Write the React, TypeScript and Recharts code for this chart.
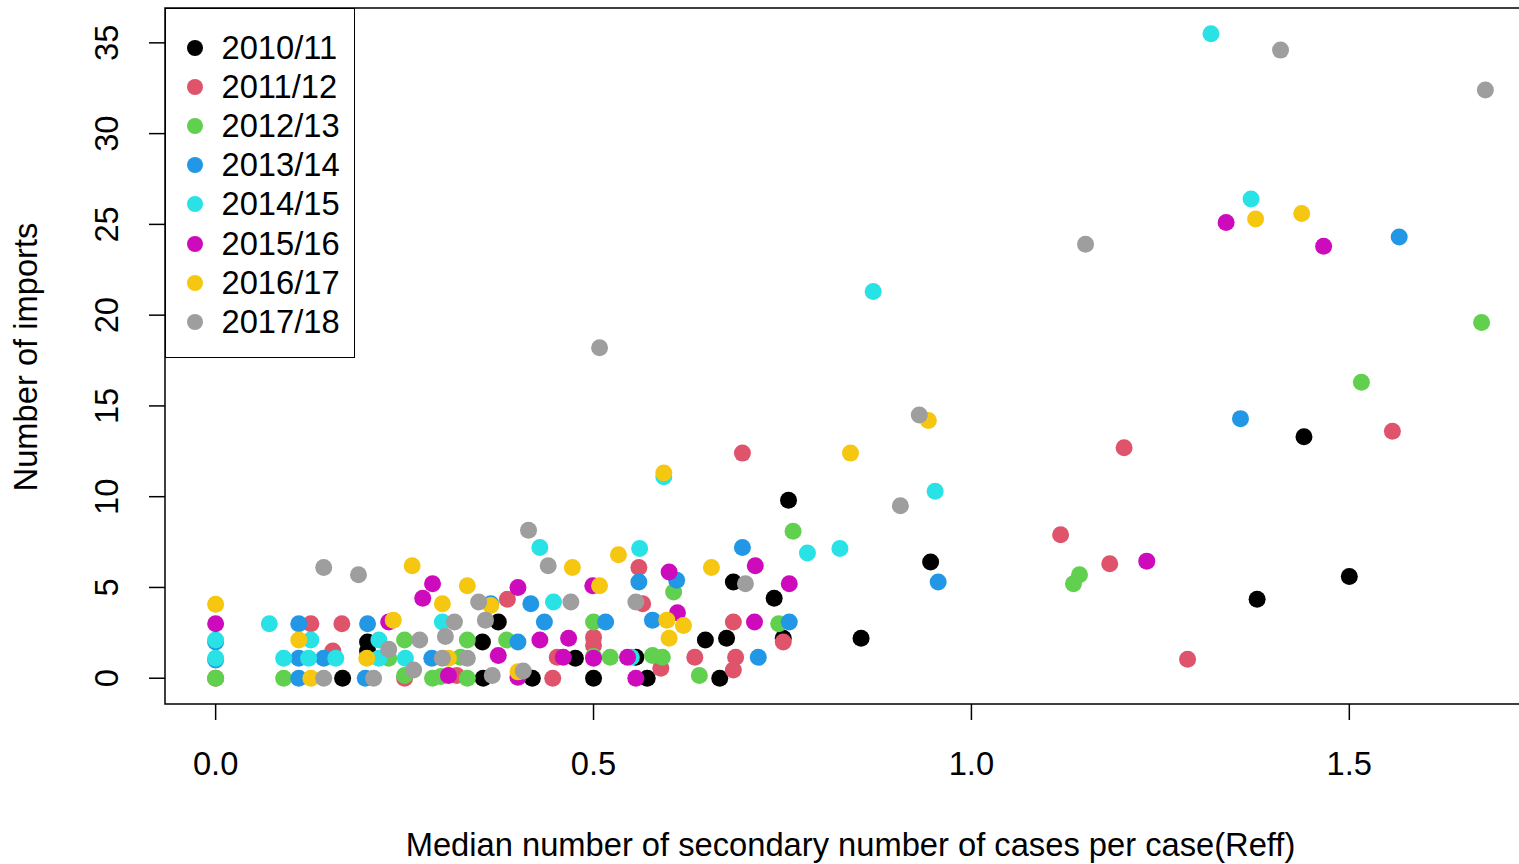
import { ScatterChart, Scatter, XAxis, YAxis, ReferenceArea, Legend, Label } from "recharts";

// season names and colours (R default palette)
const seasons = ["2010/11", "2011/12", "2012/13", "2013/14", "2014/15", "2015/16", "2016/17", "2017/18"];
const colors = ["#000000", "#DF536B", "#61D04F", "#2297E6", "#28E2E5", "#CD0BBC", "#F5C710", "#9E9E9E"];

// [Reff, imports] pairs per season
const s2010_11: [number, number][] = [
  [0.201, 2.0], [0.201, 1.5], [0.168, 0], [0.353, 2.0], [0.374, 3.1], [0.354, 0], [0.419, 0],
  [0.476, 1.1], [0.5, 0], [0.556, 1.15], [0.571, 0], [0.648, 2.1], [0.676, 2.2], [0.667, 0],
  [0.685, 5.3], [0.739, 4.4], [0.751, 2.2], [0.758, 9.8], [0.854, 2.2], [0.946, 6.4],
  [1.378, 4.35], [1.44, 13.3], [1.5, 5.6],
];
const s2011_12: [number, number][] = [
  [0, 0], [0.126, 3.0], [0.167, 3.0], [0.155, 1.5], [0.25, 0], [0.319, 0.15], [0.386, 4.35],
  [0.446, 0], [0.452, 1.15], [0.5, 2.25], [0.5, 1.8], [0.56, 6.1], [0.565, 4.1], [0.589, 0.55],
  [0.634, 1.15], [0.685, 3.1], [0.688, 1.15], [0.685, 0.45], [0.697, 12.4], [0.751, 2.0],
  [1.118, 7.9], [1.183, 6.3], [1.202, 12.7], [1.286, 1.05], [1.557, 13.6],
];
const s2012_13: [number, number][] = [
  [0, 0], [0.09, 0], [0.229, 1.1], [0.25, 2.1], [0.25, 0.15], [0.287, 0], [0.298, 0.1],
  [0.324, 1.15], [0.333, 2.1], [0.333, 0], [0.385, 2.1], [0.5, 3.1], [0.5, 1.2], [0.522, 1.15],
  [0.578, 1.25], [0.591, 1.15], [0.606, 4.75], [0.64, 0.15], [0.745, 3.0], [0.764, 8.1],
  [1.135, 5.2], [1.143, 5.7], [1.516, 16.3], [1.675, 19.6],
];
const s2013_14: [number, number][] = [
  [0, 1.0], [0, 2.0], [0.11, 3.0], [0.11, 1.1], [0.11, 0], [0.143, 1.1], [0.198, 0], [0.201, 3.0],
  [0.286, 1.1], [0.364, 4.1], [0.4, 2.0], [0.417, 4.1], [0.435, 3.1], [0.516, 3.1], [0.56, 5.3],
  [0.578, 3.2], [0.61, 5.4], [0.697, 7.2], [0.718, 1.15], [0.759, 3.1], [0.956, 5.3],
  [1.356, 14.3], [1.566, 24.3],
];
const s2014_15: [number, number][] = [
  [0, 2.1], [0, 1.1], [0.071, 3.0], [0.09, 1.1], [0.123, 1.1], [0.126, 2.1], [0.159, 1.1],
  [0.216, 2.1], [0.216, 1.1], [0.251, 1.1], [0.3, 3.1], [0.429, 7.2], [0.447, 4.2], [0.55, 1.15],
  [0.561, 7.15], [0.593, 11.1], [0.783, 6.9], [0.826, 7.15], [0.87, 21.3], [0.952, 10.3],
  [1.317, 35.5], [1.37, 26.4],
];
const s2015_16: [number, number][] = [
  [0, 3.0], [0.229, 3.1], [0.274, 4.4], [0.287, 5.2], [0.308, 0.15], [0.374, 1.25], [0.4, 5.0],
  [0.4, 0.05], [0.429, 2.1], [0.46, 1.15], [0.467, 2.2], [0.499, 5.1], [0.5, 1.1], [0.545, 1.15],
  [0.556, 0], [0.6, 5.85], [0.611, 3.6], [0.713, 3.1], [0.714, 6.2], [0.759, 5.2], [1.232, 6.45],
  [1.337, 25.1], [1.466, 23.8],
];
const s2016_17: [number, number][] = [
  [0, 4.07], [0.11, 2.1], [0.126, 0], [0.2, 1.1], [0.235, 3.2], [0.26, 6.2], [0.3, 4.1],
  [0.308, 1.1], [0.333, 5.1], [0.364, 4.0], [0.4, 0.35], [0.472, 6.1], [0.508, 5.1], [0.533, 6.8],
  [0.593, 11.3], [0.597, 3.2], [0.6, 2.2], [0.619, 2.9], [0.656, 6.1], [0.84, 12.4],
  [0.943, 14.2], [1.376, 25.3], [1.437, 25.6],
];
const s2017_18: [number, number][] = [
  [0.143, 6.1], [0.189, 5.7], [0.143, 0], [0.209, 0], [0.229, 1.6], [0.262, 0.45], [0.27, 2.1],
  [0.3, 1.1], [0.304, 2.3], [0.316, 3.1], [0.333, 1.1], [0.348, 4.2], [0.357, 3.2], [0.366, 0.15],
  [0.407, 0.4], [0.414, 8.15], [0.44, 6.2], [0.47, 4.2], [0.508, 18.2], [0.556, 4.2], [0.701, 5.2],
  [0.906, 9.5], [0.931, 14.5], [1.151, 23.9], [1.409, 34.6], [1.68, 32.4],
];

const seasonData = [s2010_11, s2011_12, s2012_13, s2013_14, s2014_15, s2015_16, s2016_17, s2017_18];

const xTicks = [0, 0.5, 1, 1.5];
const xTickLabels = ["0.0", "0.5", "1.0", "1.5"];
const yTicks = [0, 5, 10, 15, 20, 25, 30, 35];

const X_DOMAIN: [number, number] = [-0.067, 1.747];
const Y_DOMAIN: [number, number] = [-1.42, 36.92];

const FONT = "'Liberation Sans', Arial, Helvetica, sans-serif";
const FS = 32.7;

const YTick = ({ x, y, payload }: any) => (
  <text
    x={x}
    y={y}
    transform={`rotate(-90, ${x}, ${y})`}
    textAnchor="middle"
    fontSize={FS}
    fontFamily={FONT}
    fill="#000"
  >
    {payload.value}
  </text>
);

const renderLegend = (props: any) => (
  <div
    style={{
      width: 190,
      height: 350,
      boxSizing: "border-box",
      border: "1.5px solid #000",
      background: "#fff",
      paddingTop: 19,
      fontFamily: FONT,
      fontSize: FS,
      color: "#000",
    }}
  >
    {(props.payload || []).map((entry: any) => (
      <div key={entry.value} style={{ display: "flex", alignItems: "center", height: 39.2 }}>
        <span
          style={{
            display: "inline-block",
            width: 16,
            height: 16,
            borderRadius: "50%",
            background: entry.color,
            marginLeft: 20.5,
            marginRight: 19,
          }}
        />
        <span>{entry.value}</span>
      </div>
    ))}
  </div>
);

const App = () => {
  return (
    <div
      style={{
        position: "absolute",
        left: 0,
        top: 0,
        width: 1519,
        height: 864,
        overflow: "hidden",
        background: "#fff",
        fontFamily: FONT,
      }}
    >
      <ScatterChart width={1560} height={864} margin={{ top: 8, right: 24, bottom: 0, left: 0 }}>
        <XAxis
          type="number"
          dataKey="x"
          domain={X_DOMAIN}
          allowDataOverflow
          ticks={xTicks}
          tickFormatter={(v: number) => xTickLabels[xTicks.indexOf(v)]}
          axisLine={false}
          tickSize={16}
          tickMargin={32}
          tickLine={{ stroke: "#000", strokeWidth: 1.5 }}
          tick={{ fontSize: FS, fill: "#000", fontFamily: FONT }}
          height={160}
        >
          <Label
            content={(p: any) => {
              const vb = p.viewBox;
              return (
                <text
                  x={vb.x + vb.width / 2}
                  y={856}
                  textAnchor="middle"
                  fontSize={FS}
                  fontFamily={FONT}
                  fill="#000"
                >
                  Median number of secondary number of cases per case(Reff)
                </text>
              );
            }}
          />
        </XAxis>
        <YAxis
          type="number"
          dataKey="y"
          domain={Y_DOMAIN}
          allowDataOverflow
          ticks={yTicks}
          axisLine={false}
          tickSize={16}
          tickMargin={31}
          tickLine={{ stroke: "#000", strokeWidth: 1.5 }}
          tick={<YTick />}
          width={165}
        >
          <Label
            content={() => (
              <text
                x={37}
                y={357}
                transform="rotate(-90, 37, 357)"
                textAnchor="middle"
                fontSize={FS}
                fontFamily={FONT}
                fill="#000"
              >
                Number of imports
              </text>
            )}
          />
        </YAxis>
        <ReferenceArea
          x1={X_DOMAIN[0]}
          x2={X_DOMAIN[1]}
          y1={Y_DOMAIN[0]}
          y2={Y_DOMAIN[1]}
          fill="none"
          stroke="#000"
          strokeWidth={1.5}
          ifOverflow="visible"
        />
        {seasons.map((name, i) => (
          <Scatter
            key={name}
            name={name}
            data={seasonData[i].map(([x, y]) => ({ x, y }))}
            fill={colors[i]}
            isAnimationActive={false}
            shape={(p: any) => <circle cx={p.cx} cy={p.cy} r={8.5} fill={colors[i]} />}
          />
        ))}
        <Legend
          layout="vertical"
          align="center"
          verticalAlign="middle"
          content={renderLegend}
          wrapperStyle={{ top: 8, left: 165, width: 190, height: 350 }}
        />
      </ScatterChart>
    </div>
  );
};

export default App;
